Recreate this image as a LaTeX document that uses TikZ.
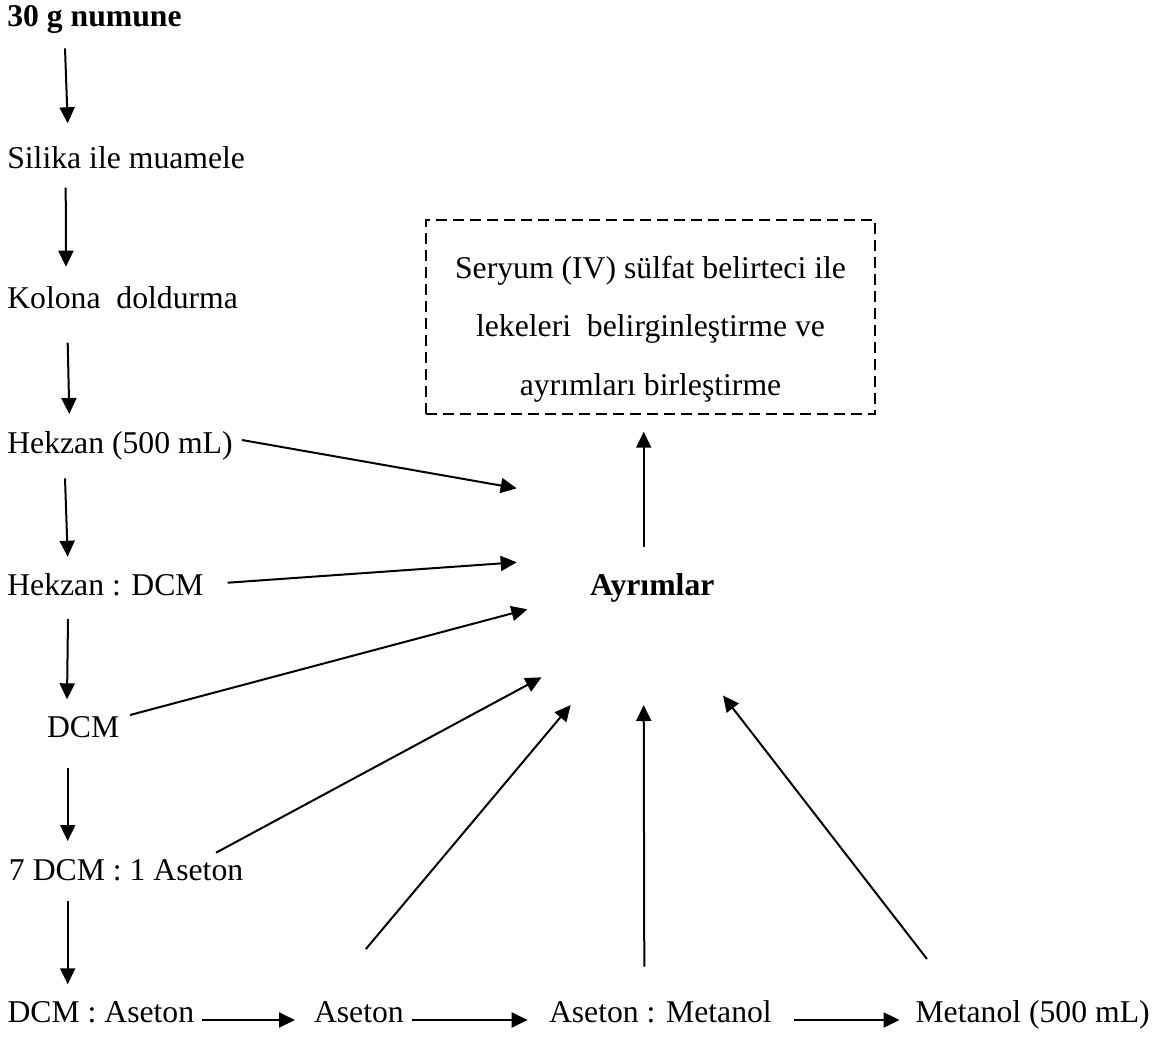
\documentclass[tikz,border=0pt]{standalone}
\usepackage{fontspec}
\setmainfont{Liberation Serif}
\usetikzlibrary{arrows.meta,calc}

\begin{document}
\begin{tikzpicture}[x=1pt,y=-1pt,
  every node/.style={font=\fontsize{31.7}{38}\selectfont, inner sep=0pt, outer sep=0pt},
  adim/.style={anchor=base west},
  ok/.style={line width=2pt, -{Triangle[length=16pt,width=15pt]}},
  kesik/.style={draw, line width=2.6pt, dash pattern=on 11pt off 6pt}
]
\useasboundingbox (0,0) rectangle (1164,1037);

% steps of the column
\node[adim] (n30)  at (7.3,26)    {\textbf{30 g numune}};
\node[adim] (nsil) at (7.3,168.3) {Silika ile muamele};
\node[adim] (nkol) at (7.3,308.3) {Kolona\ \ doldurma};
\node[adim] (nhek) at (7.3,453.3) {Hekzan (500 mL)};
\node[adim] (nhd)  at (7.3,595)   {Hekzan : DCM};
\node[adim] (ndcm) at (47,737)    {DCM};
\node[adim] (n7)   at (9,880.7)   {7 DCM : 1 Aseton};
\node[adim] (nda)  at (7.5,1022.7){DCM : Aseton};
\node[adim] (nas)  at (314,1022.7){Aseton};
\node[adim] (nam)  at (549,1022.7){Aseton : Metanol};
\node[adim] (nmet) at (915.5,1022.7){Metanol (500 mL)};

% collected fractions
\node[adim] (nayr) at (590,595.7) {\textbf{Ayrımlar}};

% dashed frame with its text
\node[kesik, minimum width=449pt, minimum height=194pt] (kutu) at (650.5,317) {};
\node[align=center, font=\fontsize{31.7}{58.5}\selectfont] (kutumetin) at (650.5,329)
  {Seryum (IV) sülfat belirteci ile\\lekeleri\ \ belirginleştirme ve\\ayrımları birleştirme};

% vertical flow
\draw[ok] ($(n30.base west)+(57.7,22.3)$)  -- ($(nsil.base west)+(60.4,-45)$);
\draw[ok] ($(nsil.base west)+(58.4,19.4)$) -- ($(nkol.base west)+(58.7,-41.6)$);
\draw[ok] ($(nkol.base west)+(60.4,34.4)$) -- ($(nhek.base west)+(62,-39.3)$);
\draw[ok] ($(nhek.base west)+(57.7,25)$)   -- ($(nhd.base west)+(60.4,-38.3)$);
\draw[ok] ($(nhd.base west)+(60.7,24)$)    -- ($(ndcm.base west)+(20,-37.7)$);
\draw[ok] ($(ndcm.base west)+(20.7,31.3)$) -- ($(n7.base west)+(58.7,-39.7)$);
\draw[ok] ($(n7.base west)+(58.7,20)$)     -- ($(nda.base west)+(60.2,-38.4)$);

% bottom row
\draw[ok] ($(nda.base east)+(7.5,-2.7)$) -- ($(nas.base west)+(-19,-2.7)$);
\draw[ok] ($(nas.base east)+(7.9,-2.7)$) -- ($(nam.base west)+(-21.3,-2.7)$);
\draw[ok] ($(nam.base east)+(22.5,-2.7)$) -- ($(nmet.base west)+(-15.9,-2.7)$);

% arrow tips around the fractions label
\coordinate (g1) at ($(nayr.base west)+(-73.3,-107.4)$);
\coordinate (g2) at ($(nayr.base west)+(-73.3,-33.4)$);
\coordinate (g3) at ($(nayr.base west)+(-62.6,13.6)$);
\coordinate (g4) at ($(nayr.base west)+(-48.5,81.6)$);
\coordinate (g5) at ($(nayr.base west)+(-19.3,109.3)$);
\coordinate (g6) at ($(nayr.base west)+(53.7,109.3)$);
\coordinate (g7) at ($(nayr.base west)+(133,99.8)$);

\draw[ok] ($(nhek.base west)+(234.6,-13.3)$) -- (g1);
\draw[ok] ($(nhd.base west)+(220.4,-12.3)$)  -- (g2);
\draw[ok] ($(ndcm.base west)+(83,-22)$)      -- (g3);
\draw[ok] ($(n7.base west)+(207,-28)$)       -- (g4);
\draw[ok] ($(nas.base west)+(51.9,-73.7)$)   -- (g5);
\draw[ok] ($(nam.base west)+(95.3,-56)$)     -- (g6);
\draw[ok] ($(nmet.base west)+(11.5,-63.7)$)  -- (g7);

% fractions to staining step
\draw[ok] ($(nayr.base west)+(53.7,-49)$) -- ($(kutu.south)+(-6.8,17.7)$);
\end{tikzpicture}
\end{document}
